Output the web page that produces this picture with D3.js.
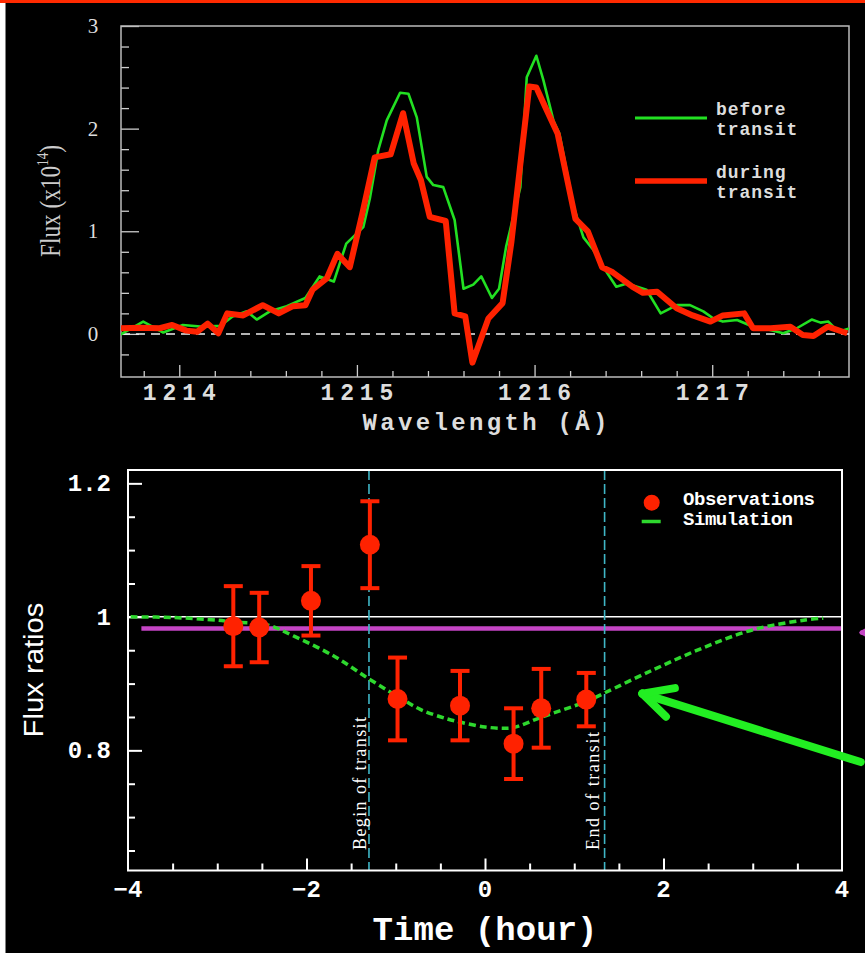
<!DOCTYPE html>
<html>
<head>
<meta charset="utf-8">
<script src="https://cdn.jsdelivr.net/npm/d3@7"></script>
<style>
  html, body { margin: 0; padding: 0; background: #000; }
  svg { display: block; }
</style>
</head>
<body>
<script>
/*Spectrum data (top panel): wavelength in Angstrom, flux in 1e-14 */
var wlBefore = [1213.665, 1213.797, 1213.91, 1214.02, 1214.135, 1214.23, 1214.30, 1214.38, 1214.436, 1214.51,
  1214.605, 1214.71, 1214.79, 1214.87, 1214.94, 1215.036, 1215.074, 1215.12, 1215.168, 1215.243,
  1215.29, 1215.337, 1215.393, 1215.43, 1215.486, 1215.55, 1215.60, 1215.655, 1215.70, 1215.76,
  1215.80, 1215.84, 1215.92, 1215.956, 1216.01, 1216.05, 1216.106, 1216.14, 1216.22, 1216.275,
  1216.33, 1216.41, 1216.46, 1216.52, 1216.63, 1216.71, 1216.80, 1216.875, 1216.95, 1217.007,
  1217.06, 1217.14, 1217.23, 1217.326, 1217.40, 1217.476, 1217.56, 1217.61, 1217.654, 1217.71, 1217.776];
var fluxBefore = [-0.01, 0.12, 0.013, 0.087, 0.07, 0.078, 0.17, 0.22, 0.14, 0.22,
  0.27, 0.35, 0.56, 0.51, 0.88, 1.04, 1.33, 1.79, 2.08, 2.35,
  2.34, 2.11, 1.53, 1.45, 1.43, 1.11, 0.44, 0.48, 0.56, 0.35,
  0.44, 0.85, 1.43, 2.50, 2.71, 2.47, 2.08, 1.95, 1.24, 0.94,
  0.82, 0.59, 0.46, 0.49, 0.43, 0.20, 0.28, 0.28, 0.22, 0.15,
  0.12, 0.136, 0.07, 0.039, 0.006, 0.055, 0.14, 0.11, 0.12, 0.02, 0.055];

var wlDuring = [1213.67, 1213.78, 1213.89, 1213.96, 1214.04, 1214.10, 1214.16, 1214.22, 1214.27, 1214.36,
  1214.47, 1214.56, 1214.64, 1214.71, 1214.75, 1214.83, 1214.89, 1214.96, 1215.03, 1215.10,
  1215.19, 1215.26, 1215.32, 1215.36, 1215.41, 1215.50, 1215.55, 1215.61, 1215.65, 1215.74,
  1215.82, 1215.87, 1215.97, 1216.01, 1216.06, 1216.13, 1216.23, 1216.30, 1216.38, 1216.44,
  1216.55, 1216.61, 1216.69, 1216.80, 1216.89, 1216.99, 1217.06, 1217.18, 1217.23, 1217.33,
  1217.44, 1217.51, 1217.57, 1217.65, 1217.76];
var fluxDuring = [0.055, 0.06, 0.055, 0.087, 0.032, 0.02, 0.10, 0.006, 0.20, 0.18,
  0.28, 0.20, 0.27, 0.28, 0.43, 0.54, 0.78, 0.65, 1.17, 1.72,
  1.75, 2.15, 1.66, 1.50, 1.14, 1.10, 0.20, 0.17, -0.28, 0.15,
  0.30, 0.90, 2.41, 2.40, 2.21, 1.95, 1.12, 1.00, 0.65, 0.60,
  0.46, 0.40, 0.41, 0.25, 0.18, 0.12, 0.18, 0.20, 0.055, 0.055,
  0.07, -0.01, -0.02, 0.07, 0.006];

var wlMajor = [1214, 1215, 1216, 1217];
var fluxMajor = [0, 1, 2, 3];

/*Light curve data (bottom panel): time in hours, flux ratio */
var obsTime = [-2.82, -2.53, -1.95, -1.29, -0.98, -0.28, 0.32, 0.63, 1.135];
var obsRatio = [0.986, 0.984, 1.024, 1.108, 0.877, 0.867, 0.810, 0.863, 0.876];
var obsErr = [0.060, 0.052, 0.052, 0.065, 0.062, 0.052, 0.053, 0.059, 0.040];

var simTime = [-3.97, -3.5, -3.0, -2.81, -2.44, -2.14, -1.69, -1.30, -0.98, -0.72, -0.42, -0.27,
  0.0, 0.21, 0.32, 0.62, 1.15, 1.34, 1.89, 2.45, 3.01, 3.57, 3.79];
var simRatio = [1.0, 0.999, 0.995, 0.992, 0.988, 0.971, 0.941, 0.907, 0.881, 0.861, 0.847, 0.842,
  0.835, 0.833, 0.834, 0.849, 0.874, 0.886, 0.921, 0.954, 0.981, 0.995, 0.998];

var transitBegin = -1.30, transitEnd = 1.34;
var meanLevel = 0.9825;
var timeMajor = [-4, -2, 0, 2, 4];
var ratioMajor = [0.8, 1, 1.2];

/*Canvas*/
var W = 865, H = 953;
var svg = d3.select("body").append("svg").attr("width", W).attr("height", H);
svg.append("rect").attr("width", W).attr("height", H).attr("fill", "#000");
svg.append("rect").attr("x", 0).attr("y", 3).attr("width", 5.5).attr("height", H).attr("fill", "#fff");
svg.append("rect").attr("x", 0).attr("y", 0).attr("width", W).attr("height", 3).attr("fill", "#ff2a00");

var mono = "'Liberation Mono', 'DejaVu Sans Mono', monospace";
var serif = "'Liberation Serif', 'DejaVu Serif', serif";
var sans = "'Liberation Sans', Arial, sans-serif";

function zip(xs, ys) { return xs.map(function (x, i) { return [x, ys[i]]; }); }

function ticks(g, axisFn, scale, values, size, color, width) {
  g.call(axisFn(scale).tickValues(values).tickSize(-size).tickFormat(""));
  g.select(".domain").remove();
  g.selectAll("line").attr("stroke", color).attr("stroke-width", width);
}

// frame drawn as four separate lines
function frame(g, xs, ys, color, width) {
  var x0 = xs.range()[0], x1 = xs.range()[1], y0 = ys.range()[0], y1 = ys.range()[1];
  g.append("path")
    .attr("d", "M" + x0 + "," + y0 + "L" + x0 + "," + y1 + "L" + x1 + "," + y1 + "L" + x1 + "," + y0 + "Z")
    .attr("fill", "none").attr("stroke", color).attr("stroke-width", width);
}

/* ---------- Top panel ---------- */
var xT = d3.scaleLinear().domain([1213.672, 1217.77]).range([121, 849]);
var yT = d3.scaleLinear().domain([-0.42, 3]).range([377, 26]);

svg.append("clipPath").attr("id", "clipTop").append("rect")
  .attr("x", xT.range()[0]).attr("y", yT.range()[1])
  .attr("width", xT.range()[1] - xT.range()[0]).attr("height", yT.range()[0] - yT.range()[1]);

var spec = svg.append("g");

var wlMinor = d3.range(6069, 6089).filter(function (i) { return i % 5 !== 0; }).map(function (i) { return i / 5; });
var fMinor = d3.range(-1, 15).filter(function (i) { return i % 5 !== 0; }).map(function (i) { return i / 5; });

ticks(spec.append("g").attr("transform", "translate(0," + yT.range()[0] + ")"), d3.axisBottom, xT, wlMinor, 6, "#ccc", 1.3);
ticks(spec.append("g").attr("transform", "translate(0," + yT.range()[0] + ")"), d3.axisBottom, xT, wlMajor, 12, "#ccc", 1.3);
ticks(spec.append("g").attr("transform", "translate(" + xT.range()[0] + ",0)"), d3.axisLeft, yT, fMinor, 8, "#ccc", 1.3);
ticks(spec.append("g").attr("transform", "translate(" + xT.range()[0] + ",0)"), d3.axisLeft, yT, fluxMajor, 18, "#ccc", 1.3);

frame(spec, xT, yT, "#bbb", 1.5);

// zero line
spec.append("line")
  .attr("x1", xT.range()[0]).attr("x2", xT.range()[1])
  .attr("y1", yT(0)).attr("y2", yT(0))
  .attr("stroke", "#eee").attr("stroke-width", 1.5).attr("stroke-dasharray", "9,6");

var lineT = d3.line().x(function (d) { return xT(d[0]); }).y(function (d) { return yT(d[1]); });
var curves = spec.append("g").attr("clip-path", "url(#clipTop)");
curves.append("path").datum(zip(wlBefore, fluxBefore)).attr("d", lineT)
  .attr("fill", "none").attr("stroke", "#22e022").attr("stroke-width", 2.6).attr("stroke-linejoin", "round");
curves.append("path").datum(zip(wlDuring, fluxDuring)).attr("d", lineT)
  .attr("fill", "none").attr("stroke", "#ff2200").attr("stroke-width", 6).attr("stroke-linejoin", "round");

// tick labels
spec.selectAll("text.xl").data(wlMajor).enter().append("text")
  .attr("x", function (d) { return xT(d); }).attr("y", 400)
  .attr("text-anchor", "middle").attr("font-family", mono).attr("font-weight", "bold")
  .attr("font-size", 23).attr("fill", "#ddd")
  .attr("textLength", 73).attr("lengthAdjust", "spacing")
  .text(function (d) { return d; });
spec.selectAll("text.yl").data(fluxMajor).enter().append("text")
  .attr("x", 93).attr("y", function (d) { return yT(d) + 7; })
  .attr("text-anchor", "middle").attr("font-family", serif)
  .attr("font-size", 21).attr("fill", "#ddd")
  .text(function (d) { return d; });

spec.append("text").attr("x", 485).attr("y", 430)
  .attr("text-anchor", "middle").attr("font-family", mono).attr("font-weight", "bold")
  .attr("font-size", 24).attr("fill", "#ddd")
  .attr("textLength", 245).attr("lengthAdjust", "spacing")
  .text("Wavelength (Å)");

var yLab = spec.append("text").attr("transform", "translate(60,201) rotate(-90)")
  .attr("text-anchor", "middle").attr("font-family", serif)
  .attr("font-size", 30).attr("fill", "#ccc")
  .attr("textLength", 112).attr("lengthAdjust", "spacingAndGlyphs");
yLab.append("tspan").text("Flux (x10");
yLab.append("tspan").attr("font-size", 17).attr("dy", -12).text("14");
yLab.append("tspan").attr("dy", 12).text(")");

// legend
var legT = [
  { label: ["before", "transit"], color: "#22e022", width: 3, y: 118 },
  { label: ["during", "transit"], color: "#ff2200", width: 5.5, y: 181 }
];
legT.forEach(function (d) {
  spec.append("line").attr("x1", 635).attr("x2", 707).attr("y1", d.y).attr("y2", d.y)
    .attr("stroke", d.color).attr("stroke-width", d.width);
  d.label.forEach(function (t, i) {
    spec.append("text").attr("x", 716).attr("y", d.y - 3 + i * 20)
      .attr("font-family", mono).attr("font-weight", "bold").attr("font-size", 18).attr("fill", "#ddd")
      .attr("textLength", t.length * 11.6).attr("lengthAdjust", "spacing")
      .text(t);
  });
});

/* ---------- Bottom panel ---------- */
var xB = d3.scaleLinear().domain([-4, 4]).range([128, 842]);
var yB = d3.scaleLinear().domain([0.62, 1.22]).range([870.5, 470]);
var bot = svg.append("g");

svg.append("clipPath").attr("id", "clipBot").append("rect")
  .attr("x", xB.range()[0]).attr("y", yB.range()[1])
  .attr("width", xB.range()[1] - xB.range()[0]).attr("height", yB.range()[0] - yB.range()[1]);

var tMinor = d3.range(-7, 8).filter(function (i) { return i % 4 !== 0; }).map(function (i) { return i / 2; });
var tMid = [-2, 0, 2];
var rMinor = d3.range(13, 25).filter(function (i) { return i % 4 !== 0; }).map(function (i) { return i / 20; });

ticks(bot.append("g").attr("transform", "translate(0," + yB.range()[0] + ")"), d3.axisBottom, xB, tMinor, 7, "#fff", 2);
ticks(bot.append("g").attr("transform", "translate(0," + yB.range()[0] + ")"), d3.axisBottom, xB, tMid, 12, "#fff", 2);
ticks(bot.append("g").attr("transform", "translate(" + xB.range()[0] + ",0)"), d3.axisLeft, yB, rMinor, 7, "#fff", 2);
ticks(bot.append("g").attr("transform", "translate(" + xB.range()[0] + ",0)"), d3.axisLeft, yB, ratioMajor, 14, "#fff", 2);

var plot = bot.append("g").attr("clip-path", "url(#clipBot)");

// reference level 1 and mean level
plot.append("line").attr("x1", xB(-4)).attr("x2", xB(4)).attr("y1", yB(1)).attr("y2", yB(1))
  .attr("stroke", "#fff").attr("stroke-width", 1.5);
plot.append("line").attr("x1", xB(-3.85)).attr("x2", xB(4)).attr("y1", yB(meanLevel)).attr("y2", yB(meanLevel))
  .attr("stroke", "#c445c4").attr("stroke-width", 4.5);

// transit limits
[transitBegin, transitEnd].forEach(function (t) {
  plot.append("line").attr("x1", xB(t)).attr("x2", xB(t)).attr("y1", yB.range()[1]).attr("y2", yB.range()[0])
    .attr("stroke", "#3fb6c6").attr("stroke-width", 1.6).attr("stroke-dasharray", "10,4");
});

// simulation
var lineB = d3.line().curve(d3.curveCatmullRom)
  .x(function (d) { return xB(d[0]); }).y(function (d) { return yB(d[1]); });
plot.append("path").datum(zip(simTime, simRatio)).attr("d", lineB)
  .attr("fill", "none").attr("stroke", "#2ed82e").attr("stroke-width", 3.5).attr("stroke-dasharray", "7,4");

// observations
var obs = d3.range(obsTime.length);
var red = "#ff2200";
var eb = plot.append("g").selectAll("g").data(obs).enter().append("g");
eb.append("line")
  .attr("x1", function (i) { return xB(obsTime[i]); }).attr("x2", function (i) { return xB(obsTime[i]); })
  .attr("y1", function (i) { return yB(obsRatio[i] + obsErr[i]); })
  .attr("y2", function (i) { return yB(obsRatio[i] - obsErr[i]); })
  .attr("stroke", red).attr("stroke-width", 4);
[1, -1].forEach(function (s) {
  eb.append("line")
    .attr("x1", function (i) { return xB(obsTime[i]) - 9.5; }).attr("x2", function (i) { return xB(obsTime[i]) + 9.5; })
    .attr("y1", function (i) { return yB(obsRatio[i] + s * obsErr[i]); })
    .attr("y2", function (i) { return yB(obsRatio[i] + s * obsErr[i]); })
    .attr("stroke", red).attr("stroke-width", 4);
});
eb.append("circle")
  .attr("cx", function (i) { return xB(obsTime[i]); }).attr("cy", function (i) { return yB(obsRatio[i]); })
  .attr("r", 10).attr("fill", red);

frame(bot, xB, yB, "#fff", 2);

// vertical transit labels
[[transitBegin, "Begin of transit", 133, -3], [transitEnd, "End of transit", 118, -6]].forEach(function (d) {
  bot.append("text")
    .attr("transform", "translate(" + (xB(d[0]) + d[3]) + ",850) rotate(-90)")
    .attr("font-family", serif).attr("font-size", 18).attr("fill", "#fff")
    .attr("textLength", d[2]).attr("lengthAdjust", "spacing")
    .text(d[1]);
});

// tick labels
bot.selectAll("text.yl").data(ratioMajor).enter().append("text")
  .attr("x", 111).attr("y", function (d) { return yB(d) + 8; })
  .attr("text-anchor", "end").attr("font-family", mono).attr("font-weight", "bold")
  .attr("font-size", 24).attr("fill", "#fff")
  .text(function (d) { return d === 1 ? "1" : d3.format(".1f")(d); });
bot.selectAll("text.xl").data(timeMajor).enter().append("text")
  .attr("x", function (d) { return xB(d); }).attr("y", 897)
  .attr("text-anchor", "middle").attr("font-family", mono).attr("font-weight", "bold")
  .attr("font-size", 24).attr("fill", "#fff")
  .text(function (d) { return d < 0 ? "\u2212" + (-d) : d; });

bot.append("text").attr("x", 485).attr("y", 940)
  .attr("text-anchor", "middle").attr("font-family", mono).attr("font-weight", "bold")
  .attr("font-size", 34).attr("fill", "#fff")
  .attr("textLength", 225).attr("lengthAdjust", "spacing")
  .text("Time (hour)");
bot.append("text").attr("transform", "translate(43,670) rotate(-90)")
  .attr("text-anchor", "middle").attr("font-family", sans)
  .attr("font-size", 27).attr("fill", "#fff")
  .attr("textLength", 135).attr("lengthAdjust", "spacingAndGlyphs")
  .text("Flux ratios");

// legend
bot.append("circle").attr("cx", 651.7).attr("cy", 502.7).attr("r", 8).attr("fill", red);
bot.append("line").attr("x1", 641.7).attr("x2", 660.7).attr("y1", 521.5).attr("y2", 521.5)
  .attr("stroke", "#2ed82e").attr("stroke-width", 3.5);
[["Observations", 505, 132], ["Simulation", 525, 110]].forEach(function (d) {
  bot.append("text").attr("x", 683).attr("y", d[1])
    .attr("font-family", mono).attr("font-weight", "bold").attr("font-size", 19).attr("fill", "#fff")
    .attr("textLength", d[2]).attr("lengthAdjust", "spacing")
    .text(d[0]);
});

/*Annotation arrows (data coordinates)*/
function arrow(from, to, color, width, head) {
  var x0 = xB(from[0]), y0 = yB(from[1]), x1 = xB(to[0]), y1 = yB(to[1]);
  var a = Math.atan2(y0 - y1, x0 - x1);
  var g = svg.append("g").attr("stroke", color).attr("stroke-width", width)
    .attr("stroke-linecap", "round").attr("fill", "none");
  g.append("line").attr("x1", x0).attr("y1", y0).attr("x2", x1).attr("y2", y1);
  [-0.47, 0.47].forEach(function (da) {
    g.append("line").attr("x1", x1).attr("y1", y1)
      .attr("x2", x1 + head * Math.cos(a + da)).attr("y2", y1 + head * Math.sin(a + da));
  });
}
arrow([4.21, 0.7825], [1.763, 0.885], "#22ee22", 8, 33);
arrow([4.7, 0.9765], [4.22, 0.9765], "#c445c4", 4, 12);
</script>
</body>
</html>
